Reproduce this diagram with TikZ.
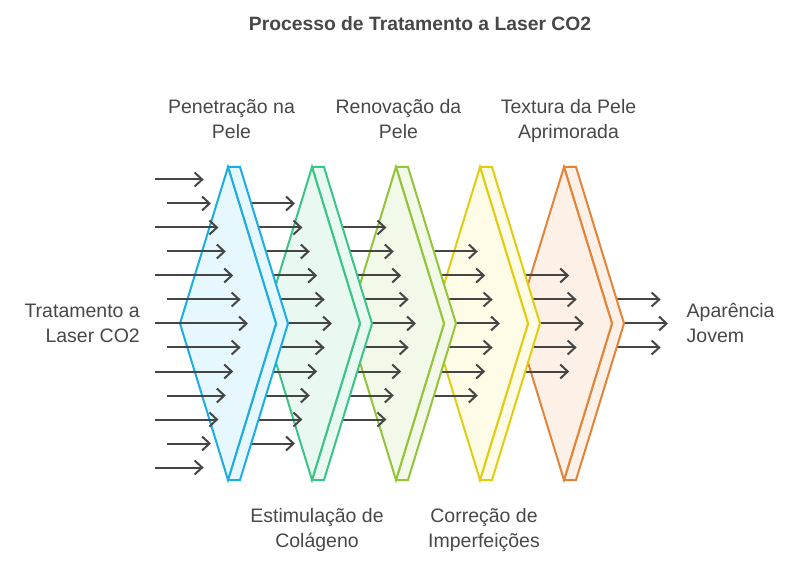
\documentclass[tikz,border=0pt]{standalone}
\usepackage{fontspec}
\setmainfont{Liberation Sans}
\usetikzlibrary{arrows.meta}
\definecolor{txt}{HTML}{484848}
\definecolor{arrc}{HTML}{454545}
\definecolor{st1}{HTML}{1BAEE1}\definecolor{fi1}{HTML}{E6F7FD}
\definecolor{st2}{HTML}{3CC488}\definecolor{fi2}{HTML}{E9F9F1}
\definecolor{st3}{HTML}{93C43A}\definecolor{fi3}{HTML}{F3F9E8}
\definecolor{st4}{HTML}{E2CC12}\definecolor{fi4}{HTML}{FEFCE6}
\definecolor{st5}{HTML}{E2843A}\definecolor{fi5}{HTML}{FDF0E6}
\tikzset{
  lbl/.style={font=\fontsize{19.5}{25}\selectfont, text=txt, inner sep=0pt, align=center},
  ttl/.style={font=\bfseries\fontsize{19.3}{23}\selectfont, text=txt, inner sep=0pt},
  arr/.style={draw=arrc, line width=2pt, -{Straight Barb[length=7.5pt,width=14pt]}},
  stage/.style={line width=2pt, line join=miter},
}
\begin{document}
\begin{tikzpicture}[x=1pt,y=-1pt]
\useasboundingbox[fill=white] (0,0) rectangle (804,564);
\node[ttl, anchor=base] (title) at (420,31) {Processo de Tratamento a Laser CO2};
% stages drawn right to left, each group of arrows under the stage it comes from
\foreach \k in {5,4,3,2,1}{
  \pgfmathsetmacro\Tg{228+84*\k}
  \pgfmathtruncatemacro\n{6-\k}
  \foreach \d in {-\n,...,\n}{
    \draw[arr] ({\Tg-72},{323.5+24*\d}) -- ({\Tg+20-7.4*abs(\d)},{323.5+24*\d});
  }
  \pgfmathsetmacro\T{228+84*(\k-1)}
  \filldraw[stage, draw=st\k, fill=fi\k] (\T,167) -- ({\T+12},167) -- ({\T+60},323.5) -- ({\T+12},480) -- (\T,480) -- ({\T+48},323.5) -- cycle;
  \filldraw[stage, draw=st\k, fill=fi\k] (\T,167) -- ({\T+48},323.5) -- (\T,480) -- ({\T-48},323.5) -- cycle;
}
\foreach \d in {-6,...,6}{
  \pgfmathsetmacro\sx{155+12*mod(abs(\d),2)}
  \draw[arr] (\sx,{323.5+24*\d}) -- ({248-7.4*abs(\d)},{323.5+24*\d});
}
% multi-line labels: anchor=base is the baseline of the last line
\node[lbl, anchor=base] (l1) at (231.5,139) {Penetração na\\Pele};
\node[lbl, anchor=base] (l3) at (398.5,139) {Renovação da\\Pele};
\node[lbl, anchor=base] (l5) at (568.5,139) {Textura da Pele\\Aprimorada};
\node[lbl, anchor=base] (l2) at (317,547) {Estimulação de\\Colágeno};
\node[lbl, anchor=base] (l4) at (484,547) {Correção de\\Imperfeições};
\node[lbl, align=right, anchor=base east] (inp) at (140,343) {Tratamento a\\Laser CO2};
\node[lbl, align=left, anchor=base west] (out) at (686.5,343) {Aparência\\Jovem};
\end{tikzpicture}
\end{document}
